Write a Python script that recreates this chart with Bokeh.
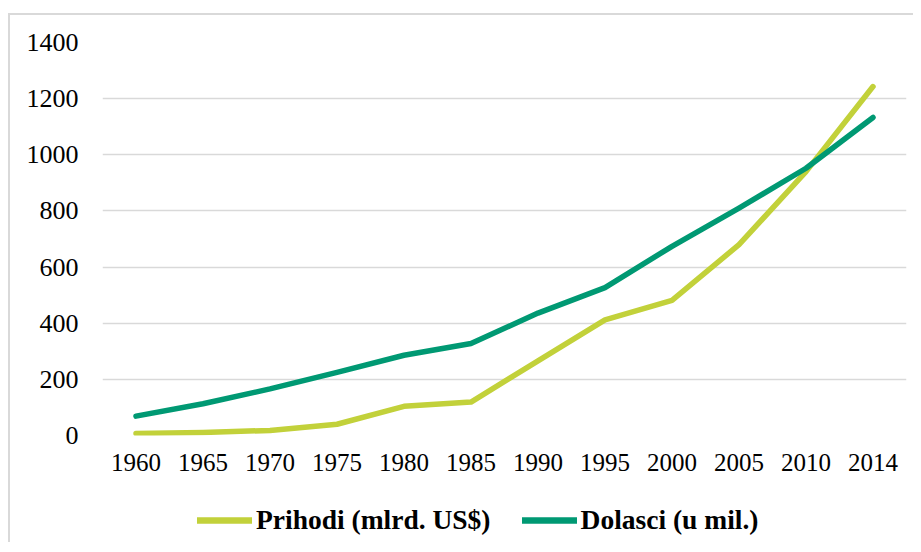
from bokeh.plotting import figure
from bokeh.layouts import column
from bokeh.models import FactorRange, Range1d, Legend, LegendItem, ColumnDataSource
from bokeh.embed import file_html
from bokeh.resources import INLINE

years = ["1960", "1965", "1970", "1975", "1980", "1985", "1990", "1995", "2000", "2005", "2010", "2014"]
prihodi = [7, 11, 18, 40, 104, 119, 266, 412, 481, 680, 940, 1243]
dolasci = [69, 113, 166, 225, 286, 328, 436, 527, 674, 810, 952, 1133]
y_ticks = [0, 200, 400, 600, 800, 1000, 1200, 1400]
labels = ["Prihodi (mlrd. US$)", "Dolasci (u mil.)"]

c_prihodi = "#c2d13a"
c_dolasci = "#009973"
font = "Liberation Serif"

src = ColumnDataSource(dict(year=years, prihodi=prihodi, dolasci=dolasci))

p = figure(x_range=FactorRange(*years), y_range=Range1d(0, 1400),
           width=903, height=470, output_backend="svg", toolbar_location=None,
           min_border_left=92, min_border_right=7, min_border_top=27, min_border_bottom=50)
p.outline_line_color = None
p.background_fill_color = "white"
p.border_fill_color = "white"

r1 = p.line("year", "prihodi", source=src, color=c_prihodi, line_width=5.5,
            line_cap="round", line_join="round")
r2 = p.line("year", "dolasci", source=src, color=c_dolasci, line_width=5.5,
            line_cap="round", line_join="round")

p.xgrid.grid_line_color = None
p.ygrid.grid_line_color = "#d9d9d9"
p.ygrid.grid_line_width = 1.5
p.yaxis.ticker = y_ticks

for ax in (p.xaxis[0], p.yaxis[0]):
    ax.axis_line_color = None
    ax.major_tick_line_color = None
    ax.minor_tick_line_color = None
    ax.major_label_text_font = font
    ax.major_label_text_font_size = "25px"
    ax.major_label_text_color = "#000000"
p.yaxis.major_label_text_font_size = "26px"
p.yaxis.major_label_standoff = 18
p.xaxis.major_label_standoff = 12

# legend strip below the chart (its series lie outside its own y range)
p2 = figure(width=903, height=57, output_backend="svg", toolbar_location=None,
            x_axis_location=None, y_axis_location=None,
            x_range=p.x_range, y_range=Range1d(-2, -1),
            min_border_left=0, min_border_right=0, min_border_top=0, min_border_bottom=0)
p2.outline_line_color = None
p2.xgrid.grid_line_color = None
p2.ygrid.grid_line_color = None
d1 = p2.line("year", "prihodi", source=src, color=c_prihodi, line_width=6.5, line_cap="round")
d2 = p2.line("year", "dolasci", source=src, color=c_dolasci, line_width=6.5, line_cap="round")

legend = Legend(items=[LegendItem(label=labels[0], renderers=[d1]),
                       LegendItem(label=labels[1], renderers=[d2])],
                orientation="horizontal", location=(95, 6),
                glyph_width=55, glyph_height=30, label_height=30, label_standoff=4,
                spacing=31, padding=0, margin=0,
                border_line_color=None, background_fill_alpha=0,
                label_text_font=font, label_text_font_size="27.5px",
                label_text_font_style="bold", label_text_color="#000000")
p2.add_layout(legend, "center")

layout = column(p, p2, spacing=0,
                styles={"border-top": "2px solid #d9d9d9", "border-left": "2px solid #d9d9d9",
                        "margin-top": "13px", "margin-left": "8px"})

open("out.html", "w").write(file_html(layout, INLINE))
